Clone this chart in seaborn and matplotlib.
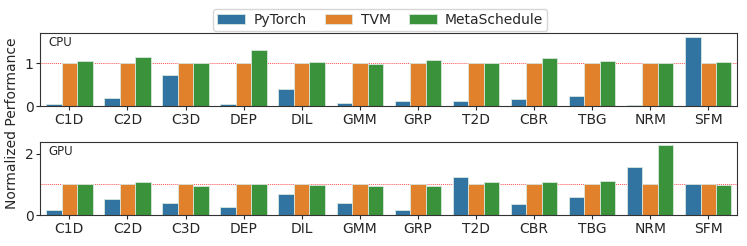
import pandas as pd
import numpy as np
import matplotlib
matplotlib.use('Agg')
import matplotlib.pyplot as plt
import seaborn as sns

workloads = ['C1D', 'C2D', 'C3D', 'DEP', 'DIL', 'GMM', 'GRP', 'T2D', 'CBR', 'TBG', 'NRM', 'SFM']
systems = ['PyTorch', 'TVM', 'MetaSchedule']

cpu_pytorch = [0.05, 0.19, 0.73, 0.05, 0.40, 0.08, 0.12, 0.13, 0.16, 0.25, 0.04, 1.62]
cpu_tvm = [1.0] * 12
cpu_ms = [1.05, 1.16, 1.02, 1.32, 1.04, 0.98, 1.09, 1.02, 1.12, 1.05, 1.0, 1.03]

gpu_pytorch = [0.16, 0.52, 0.39, 0.25, 0.70, 0.39, 0.16, 1.23, 0.37, 0.58, 1.55, 1.01]
gpu_tvm = [1.0] * 12
gpu_ms = [1.0, 1.07, 0.95, 1.0, 0.99, 0.96, 0.95, 1.06, 1.09, 1.10, 2.28, 0.97]


def to_df(pt, tvm, ms):
    rows = []
    for name, vals in zip(systems, [pt, tvm, ms]):
        for w, v in zip(workloads, vals):
            rows.append({'workload': w, 'system': name, 'perf': v})
    return pd.DataFrame(rows)


cpu_df = to_df(cpu_pytorch, cpu_tvm, cpu_ms)
gpu_df = to_df(gpu_pytorch, gpu_tvm, gpu_ms)

sns.set_style('white')
fig, axes = plt.subplots(2, 1, figsize=(7.47, 2.46), dpi=100)
fig.subplots_adjust(left=0.054, right=0.987, top=0.866, bottom=0.126, hspace=0.48)

for ax, df, label, ylim, ticks in [
    (axes[0], cpu_df, 'CPU', 1.71, [0, 1]),
    (axes[1], gpu_df, 'GPU', 2.39, [0, 2]),
]:
    sns.barplot(data=df, x='workload', y='perf', hue='system', ax=ax,
                palette=sns.color_palette('tab10', 3), saturation=0.75,
                edgecolor='#d8e8e0', linewidth=0.6)
    ax.axhline(1.0, color='#ff5050', linestyle=(0, (1, 1)), linewidth=0.7, zorder=0.5)
    ax.set_ylim(0, ylim)
    ax.set_yticks(ticks)
    ax.set_xlabel('')
    ax.set_ylabel('')
    ax.text(0.012, 0.96, label, transform=ax.transAxes, ha='left', va='top', fontsize=8.5)
    ax.tick_params(axis='both', labelsize=10, length=3, bottom=True, left=True, pad=2)
    ax.legend_.remove()
    for s in ax.spines.values():
        s.set_color('#333333')

handles, labels = axes[0].get_legend_handles_labels()
fig.legend(handles, labels, loc='upper center', ncol=3, bbox_to_anchor=(0.509, 0.975),
           fontsize=10, frameon=True, borderaxespad=0.2, columnspacing=1.3,
           handletextpad=0.6, borderpad=0.3)
fig.text(0.016, 0.5, 'Normalized Performance', rotation=90, va='center', ha='center', fontsize=10)

plt.savefig('out.png', dpi=100)
